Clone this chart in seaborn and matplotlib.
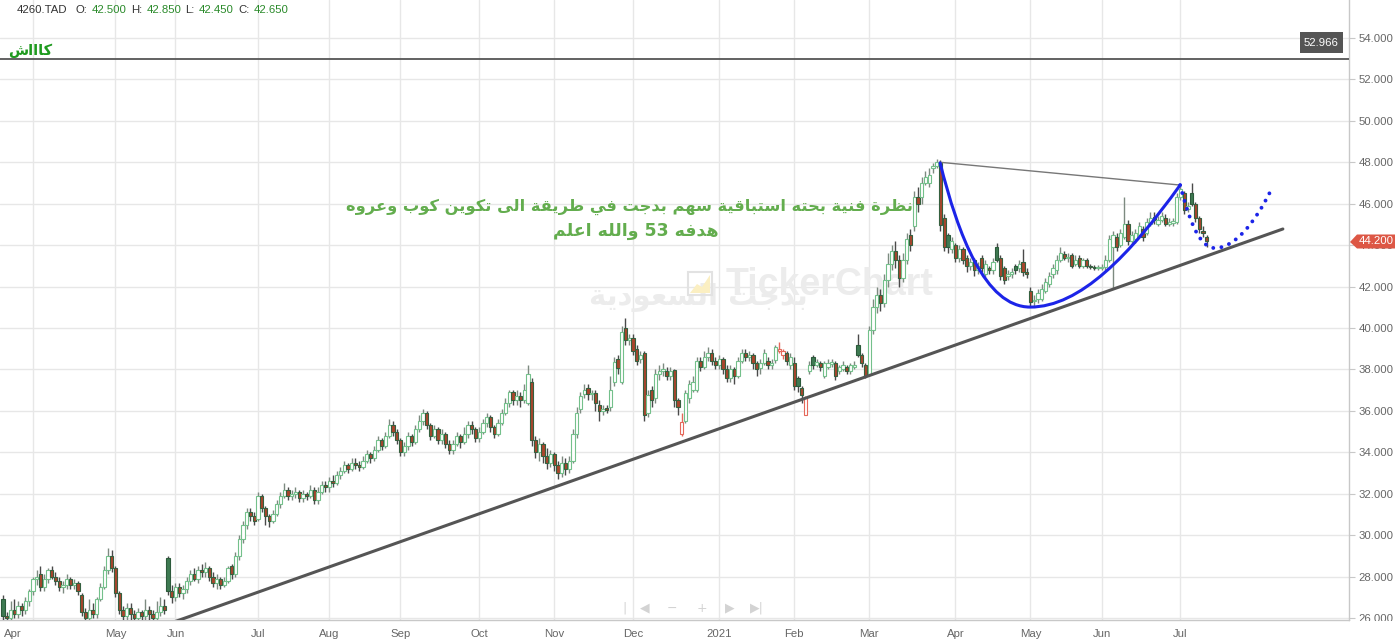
import re
import numpy as np
import matplotlib
matplotlib.use("Agg")
import matplotlib.pyplot as plt
from matplotlib.path import Path
from matplotlib.patches import PathPatch, Polygon, Rectangle
import seaborn as sns

# DATA (one candle per trading day, Mar 2020 .. Jul 2021)

month_labels = ["Apr", "May", "Jun", "Jul", "Aug", "Sep", "Oct", "Nov", "Dec",
                "2021", "Feb", "Mar", "Apr", "May", "Jun", "Jul"]
month_start = [8, 30, 46, 68, 87, 106, 127, 147, 168, 191, 211, 231, 254, 274, 293, 314]
month_label_pos = [2.7, 30, 46, 68, 87, 106, 127, 147, 168, 191, 211, 231, 254, 274, 293, 314]

opens = [
    26.9, 26.1, 26.0, 26.4, 26.2, 26.6, 26.4, 26.8,
    27.3, 27.9, 28.1, 27.5, 27.9, 28.3, 28.0, 27.8, 27.5, 27.6, 27.9, 27.6, 27.7, 27.1, 26.3, 26.0, 26.4, 26.2, 26.9, 27.5, 28.3, 29.0,
    28.4, 27.2, 26.4, 26.1, 26.5, 26.2, 26.0, 26.3, 26.1, 26.4, 26.2, 26.0, 26.3, 26.6, 28.9, 27.3,
    27.0, 27.5, 27.2, 27.4, 27.8, 28.1, 27.9, 28.3, 28.2, 28.4, 28.0, 27.7, 27.9, 27.6, 27.8, 28.5, 28.1, 29.0, 29.8, 30.5, 31.1, 30.9,
    30.8, 31.9, 31.3, 30.9, 30.7, 31.0, 31.5, 31.9, 32.2, 31.9, 32.0, 32.1, 31.8, 32.0, 31.9, 32.2, 31.7, 32.1, 32.4,
    32.3, 32.6, 32.5, 32.9, 33.1, 33.4, 33.2, 33.5, 33.4, 33.3, 33.6, 33.9, 33.7, 34.1, 34.6, 34.3, 34.8, 35.3, 35.0,
    34.6, 34.0, 34.3, 34.8, 34.5, 35.1, 35.5, 35.9, 35.3, 34.8, 35.1, 34.6, 34.9, 34.4, 34.1, 34.4, 34.8, 34.5, 34.9, 35.3, 35.1,
    34.7, 35.0, 35.4, 35.7, 35.2, 34.9, 35.4, 35.9, 36.4, 36.9, 36.5, 36.7, 36.5, 36.4, 37.4, 34.6, 34.0, 34.4, 33.8, 33.5,
    33.9, 33.4, 33.0, 33.5, 33.2, 33.6, 34.9, 36.1, 36.8, 37.1, 36.8, 36.85, 36.3, 36.0, 36.15, 36.2, 37.4, 38.5, 37.4, 40.0, 39.4,
    39.5, 39.0, 38.5, 38.8, 35.9, 37.0, 36.6, 37.8, 37.9, 37.9, 37.7, 37.95, 36.5, 34.9, 35.5, 36.6, 37.0, 37.0, 38.4, 38.1, 38.6, 38.8, 38.4,
    38.2, 38.5, 38.0, 37.6, 38.0, 37.7, 38.4, 38.8, 38.6, 38.7, 38.3, 38.05, 38.3, 38.4, 38.2, 38.45, 38.9, 38.7, 38.8, 38.2,
    38.3, 37.6, 37.1, 35.8, 37.9, 38.6, 38.2, 38.3, 37.7, 38.1, 38.25, 38.3, 37.9, 38.0, 38.1, 37.9, 38.1, 39.2, 38.7, 38.2,
    37.8, 39.9, 41.0, 41.6, 41.2, 42.3, 43.1, 43.7, 43.3, 42.4, 43.3, 44.5, 44.9, 46.3, 46.3, 47.0, 47.0, 47.7, 47.8, 47.95, 45.3, 44.5, 43.8,
    44.0, 43.4, 43.8, 43.4, 43.0, 43.3, 42.8, 43.4, 42.6, 42.9, 42.8, 43.9, 43.4, 42.9, 42.5, 42.6, 43.0, 42.9, 43.2, 42.7,
    41.8, 41.3, 41.4, 41.4, 41.8, 42.1, 42.6, 42.8, 43.3, 43.55, 43.4, 43.5, 43.1, 43.4, 43.0, 43.3, 43.0, 42.95, 42.9,
    42.9, 42.95, 43.3, 43.9, 44.4, 44.0, 44.4, 45.0, 44.2, 44.3, 44.5, 44.8, 44.6, 45.0, 45.35, 45.0, 45.2, 45.3, 45.0, 45.05, 45.1,
    46.3, 46.5, 45.75, 46.5, 46.0, 45.3, 44.7, 44.4,
]

closes = [
    26.1, 26.0, 26.4, 26.2, 26.6, 26.4, 26.8, 27.3,
    27.9, 28.0, 27.5, 27.9, 28.3, 28.0, 27.8, 27.5, 27.6, 27.9, 27.6, 27.7, 27.3, 26.3, 26.0, 26.4, 26.2, 26.9, 27.5, 28.3, 29.0, 28.4,
    27.2, 26.4, 26.1, 26.5, 26.2, 26.0, 26.3, 26.1, 26.4, 26.2, 26.0, 26.3, 26.6, 26.4, 27.3, 27.0,
    27.5, 27.2, 27.4, 27.8, 28.1, 27.9, 28.3, 28.2, 28.4, 28.0, 27.7, 27.9, 27.6, 27.8, 28.4, 28.1, 29.0, 29.8, 30.5, 31.1, 30.9, 30.7,
    31.9, 31.3, 30.9, 30.7, 31.0, 31.5, 31.9, 32.2, 31.9, 32.0, 32.1, 31.8, 32.0, 31.9, 32.2, 31.7, 32.1, 32.4, 32.3,
    32.6, 32.5, 32.9, 33.1, 33.4, 33.2, 33.5, 33.4, 33.3, 33.6, 33.9, 33.7, 34.1, 34.6, 34.3, 34.8, 35.3, 35.0, 34.6,
    34.0, 34.3, 34.8, 34.5, 35.1, 35.5, 35.9, 35.3, 34.8, 35.1, 34.6, 34.9, 34.4, 34.1, 34.4, 34.8, 34.5, 34.9, 35.3, 35.1, 34.7,
    35.0, 35.4, 35.7, 35.2, 34.9, 35.4, 35.9, 36.4, 36.9, 36.5, 36.7, 36.5, 37.0, 37.8, 34.6, 34.0, 34.4, 33.8, 33.5, 33.9,
    33.4, 33.0, 33.5, 33.2, 33.6, 34.9, 35.9, 36.7, 37.0, 36.8, 36.8, 36.4, 36.0, 36.1, 36.05, 37.0, 38.35, 38.06, 39.8, 39.4, 39.5,
    38.9, 38.4, 38.7, 35.8, 36.75, 36.5, 37.8, 37.9, 38.0, 37.7, 37.9, 36.5, 36.2, 35.45, 36.85, 37.3, 37.4, 38.4, 38.1, 38.6, 38.8, 38.4, 38.2,
    38.5, 38.0, 37.6, 38.0, 37.7, 38.4, 38.8, 38.6, 38.7, 38.3, 38.0, 38.3, 38.8, 38.2, 38.3, 39.1, 39.0, 38.9, 38.4, 38.6,
    37.2, 37.2, 36.75, 36.6, 38.2, 38.2, 38.35, 38.1, 38.3, 38.3, 38.35, 37.7, 38.1, 38.2, 37.9, 38.2, 38.2, 38.7, 38.3, 37.7,
    39.9, 41.0, 41.6, 41.2, 42.3, 43.1, 43.7, 43.3, 42.4, 43.3, 44.3, 44.0, 46.3, 46.0, 47.0, 47.3, 47.4, 47.8, 48.0, 44.97, 43.9, 43.9, 44.2,
    43.4, 43.8, 43.3, 43.0, 43.2, 42.8, 43.0, 42.9, 43.1, 42.8, 43.2, 43.3, 42.5, 42.3, 42.6, 42.7, 42.8, 43.1, 42.7, 42.6,
    41.25, 41.35, 41.7, 41.9, 42.2, 42.5, 42.9, 43.3, 43.6, 43.4, 43.45, 43.0, 43.3, 43.0, 43.3, 43.0, 42.95, 42.9, 42.95,
    42.95, 43.3, 44.3, 44.5, 43.9, 44.6, 45.0, 44.2, 44.5, 44.6, 44.9, 44.4, 45.1, 45.3, 45.2, 45.2, 45.4, 45.0, 45.1, 45.15, 46.3,
    46.7, 45.7, 45.9, 46.0, 45.3, 44.8, 44.6, 44.2,
]

highs = [
    27.1, 26.3, 26.8, 26.9, 26.8, 26.7, 27.0, 27.4,
    28.0, 28.3, 28.5, 28.1, 28.4, 28.5, 28.2, 28.0, 27.8, 28.1, 28.0, 27.9, 27.8, 27.2, 26.5, 26.9, 26.7, 27.0, 27.7, 28.5, 29.4, 29.3,
    28.5, 27.3, 26.6, 26.7, 26.7, 26.4, 26.5, 26.4, 26.9, 26.6, 26.4, 26.8, 27.0, 26.9, 29.0, 27.6,
    27.7, 27.7, 27.6, 28.0, 28.3, 28.4, 28.5, 28.6, 28.7, 28.5, 28.2, 28.1, 28.0, 28.0, 28.5, 28.6, 29.2, 30.0, 30.7, 31.3, 31.3, 31.1,
    32.1, 32.0, 31.4, 31.0, 31.2, 31.7, 32.1, 32.5, 32.3, 32.2, 32.3, 32.2, 32.2, 32.1, 32.4, 32.3, 32.3, 32.6, 32.6,
    32.8, 32.9, 33.1, 33.3, 33.6, 33.5, 33.7, 33.7, 33.6, 33.8, 34.1, 34.0, 34.3, 34.8, 34.7, 35.0, 35.6, 35.5, 35.1,
    34.7, 34.5, 35.0, 34.9, 35.3, 35.8, 36.1, 36.0, 35.4, 35.3, 35.2, 35.1, 35.0, 34.6, 34.6, 35.0, 34.9, 35.2, 35.5, 35.5, 35.2,
    35.2, 35.6, 35.9, 35.8, 35.3, 35.6, 36.1, 36.6, 37.0, 37.0, 37.0, 36.9, 37.3, 38.2, 37.6, 34.8, 34.7, 34.5, 34.2, 34.1,
    34.0, 33.6, 33.8, 33.7, 33.8, 35.1, 36.2, 36.9, 37.3, 37.3, 37.0, 37.0, 36.5, 36.3, 36.3, 37.7, 38.6, 38.7, 40.1, 40.5, 39.7,
    39.7, 39.2, 38.9, 38.9, 37.0, 37.2, 38.0, 38.2, 38.3, 38.1, 38.1, 38.0, 36.6, 35.9, 37.0, 37.5, 37.7, 38.6, 38.6, 38.9, 39.1, 39.0, 38.6,
    38.7, 38.6, 38.2, 38.2, 38.1, 38.6, 39.0, 39.0, 38.9, 38.8, 38.4, 38.5, 39.0, 38.6, 38.5, 39.2, 39.3, 39.0, 38.9, 38.8,
    38.6, 37.7, 37.2, 36.7, 38.4, 38.7, 38.5, 38.4, 38.4, 38.5, 38.5, 38.4, 38.2, 38.4, 38.2, 38.3, 38.4, 39.7, 38.8, 38.3,
    40.1, 41.4, 42.0, 41.9, 42.6, 43.6, 44.0, 44.2, 43.5, 43.6, 44.6, 44.8, 46.6, 46.8, 47.3, 47.6, 47.7, 47.95, 48.15, 48.1, 45.5, 44.6, 44.4,
    44.1, 44.0, 43.9, 43.5, 43.4, 43.4, 43.2, 43.5, 43.3, 43.0, 43.4, 44.1, 43.5, 43.0, 42.8, 42.9, 43.1, 43.3, 43.8, 42.9,
    42.0, 41.6, 41.9, 42.1, 42.4, 42.7, 43.1, 43.5, 43.9, 43.7, 43.6, 43.6, 43.5, 43.5, 43.4, 43.4, 43.1, 43.05, 43.05,
    43.1, 43.5, 44.5, 44.7, 44.6, 44.8, 46.3, 45.2, 44.7, 44.8, 45.1, 44.9, 45.3, 45.6, 45.6, 45.4, 45.6, 45.5, 45.3, 45.3, 46.5,
    46.95, 46.6, 46.1, 47.0, 46.1, 45.4, 44.9, 44.5,
]

lows = [
    25.9, 25.7, 25.8, 26.0, 26.0, 26.1, 26.2, 26.6,
    27.1, 27.6, 27.3, 27.3, 27.7, 27.9, 27.6, 27.3, 27.2, 27.4, 27.4, 27.4, 27.1, 26.1, 25.7, 25.8, 26.0, 26.0, 26.8, 27.4, 28.1, 28.2,
    27.0, 26.2, 25.7, 25.9, 25.9, 25.6, 25.8, 25.8, 25.9, 25.9, 25.7, 25.9, 26.1, 26.2, 27.1, 26.7,
    26.8, 27.0, 26.9, 27.2, 27.6, 27.8, 27.7, 28.0, 28.0, 27.8, 27.5, 27.4, 27.4, 27.5, 27.7, 27.9, 28.0, 28.8, 29.6, 30.3, 30.7, 30.5,
    30.7, 31.1, 30.5, 30.4, 30.6, 30.9, 31.3, 31.8, 31.7, 31.7, 31.8, 31.6, 31.6, 31.7, 31.8, 31.5, 31.5, 32.0, 32.1,
    32.1, 32.3, 32.4, 32.7, 33.0, 33.0, 33.1, 33.2, 33.1, 33.2, 33.5, 33.5, 33.6, 34.0, 34.1, 34.2, 34.7, 34.8, 34.4,
    33.8, 33.8, 34.1, 34.3, 34.4, 35.0, 35.3, 35.1, 34.6, 34.7, 34.4, 34.4, 34.2, 33.9, 33.9, 34.3, 34.2, 34.4, 34.7, 34.9, 34.5,
    34.5, 34.9, 35.2, 35.0, 34.7, 34.8, 35.3, 35.8, 36.2, 36.3, 36.3, 36.2, 36.4, 36.3, 34.3, 33.7, 33.6, 33.5, 33.2, 33.3,
    33.1, 32.7, 32.8, 32.9, 33.0, 33.5, 34.7, 35.9, 36.6, 36.5, 36.5, 36.0, 35.5, 35.8, 35.9, 36.0, 37.2, 37.8, 37.3, 39.2, 39.2,
    38.7, 38.2, 38.3, 35.5, 35.7, 36.2, 36.4, 37.5, 37.7, 37.5, 37.5, 36.2, 35.8, 34.8, 35.4, 36.4, 36.9, 36.9, 37.9, 38.0, 38.4, 38.2, 38.0,
    38.0, 37.8, 37.4, 37.4, 37.3, 37.6, 38.3, 38.4, 38.4, 38.0, 37.7, 37.8, 38.2, 38.0, 38.0, 38.3, 38.8, 38.5, 38.2, 38.0,
    37.0, 36.9, 36.4, 35.8, 37.8, 38.0, 38.1, 37.9, 37.6, 38.0, 38.1, 37.5, 37.8, 37.9, 37.8, 37.8, 38.0, 38.6, 38.1, 37.6,
    37.7, 39.7, 40.7, 40.8, 41.0, 42.0, 42.8, 42.9, 42.0, 42.2, 43.1, 43.7, 44.7, 45.6, 46.0, 46.9, 46.8, 47.5, 47.7, 44.7, 43.7, 43.6, 43.6,
    43.2, 43.2, 43.1, 42.7, 42.8, 42.5, 42.6, 42.7, 42.4, 42.6, 42.6, 43.2, 42.3, 42.1, 42.3, 42.4, 42.6, 42.7, 42.5, 42.4,
    41.0, 41.0, 41.2, 41.3, 41.7, 42.0, 42.4, 42.6, 43.2, 43.3, 43.2, 42.9, 43.0, 42.9, 42.9, 42.9, 42.85, 42.8, 42.8,
    42.8, 42.8, 43.2, 41.9, 43.7, 43.9, 44.3, 44.0, 44.0, 44.1, 44.4, 44.2, 44.5, 44.9, 45.0, 44.9, 45.1, 44.9, 44.9, 44.9, 45.0,
    46.2, 45.5, 45.6, 45.9, 45.1, 44.6, 44.4, 43.9,
]

# drawn lines (candle index, price)
trend_x = [40.0, 341.3]
trend_y = [25.45, 44.78]
rim_x = [249.9, 313.9]
rim_y = [48.0, 46.9]
cup_x = [249.9, 254.7, 261.9, 273.9, 287.2, 300.5, 313.9]
cup_y = [47.97, 44.49, 41.01, 41.01, 41.01, 43.52, 46.90]
handle_x = [313.9, 316.0, 318.7, 323.2, 328.5, 333.9, 337.9]
handle_y = [46.90, 45.45, 43.86, 43.86, 43.86, 45.12, 46.57]
target_level = 52.966
last_price = 44.2

ticker = "4260.TAD"
ohlc_names = ["O:", "H:", "L:", "C:"]
ohlc_values = ["42.500", "42.850", "42.450", "42.650"]

note_line1 = "نظرة فنية بحته استباقية سهم بدجت في طريقة الى تكوين كوب وعروه"
note_line2 = "هدفه 53 والله اعلم"
user_tag = "كاااش"
wm_ar = "بدجت السعودية"

# ARABIC SHAPING (matplotlib has no bidi / joining)

FORMS = {
    "ا": ("\uFE8D", "\uFE8E", None, None),
    "ب": ("\uFE8F", "\uFE90", "\uFE91", "\uFE92"),
    "ة": ("\uFE93", "\uFE94", None, None),
    "ت": ("\uFE95", "\uFE96", "\uFE97", "\uFE98"),
    "ج": ("\uFE9D", "\uFE9E", "\uFE9F", "\uFEA0"),
    "ح": ("\uFEA1", "\uFEA2", "\uFEA3", "\uFEA4"),
    "د": ("\uFEA9", "\uFEAA", None, None),
    "ر": ("\uFEAD", "\uFEAE", None, None),
    "س": ("\uFEB1", "\uFEB2", "\uFEB3", "\uFEB4"),
    "ش": ("\uFEB5", "\uFEB6", "\uFEB7", "\uFEB8"),
    "ط": ("\uFEC1", "\uFEC2", "\uFEC3", "\uFEC4"),
    "ظ": ("\uFEC5", "\uFEC6", "\uFEC7", "\uFEC8"),
    "ع": ("\uFEC9", "\uFECA", "\uFECB", "\uFECC"),
    "ف": ("\uFED1", "\uFED2", "\uFED3", "\uFED4"),
    "ق": ("\uFED5", "\uFED6", "\uFED7", "\uFED8"),
    "ك": ("\uFED9", "\uFEDA", "\uFEDB", "\uFEDC"),
    "ل": ("\uFEDD", "\uFEDE", "\uFEDF", "\uFEE0"),
    "م": ("\uFEE1", "\uFEE2", "\uFEE3", "\uFEE4"),
    "ن": ("\uFEE5", "\uFEE6", "\uFEE7", "\uFEE8"),
    "ه": ("\uFEE9", "\uFEEA", "\uFEEB", "\uFEEC"),
    "و": ("\uFEED", "\uFEEE", None, None),
    "ى": ("\uFEEF", "\uFEF0", None, None),
    "ي": ("\uFEF1", "\uFEF2", "\uFEF3", "\uFEF4"),
}


def shape_ar(text):
    out = []
    for k, ch in enumerate(text):
        if ch not in FORMS:
            out.append(ch)
            continue
        prv = text[k - 1] if k > 0 else ""
        nxt = text[k + 1] if k + 1 < len(text) else ""
        join_prev = prv in FORMS and FORMS[prv][2] is not None
        join_next = nxt in FORMS and FORMS[ch][2] is not None
        iso, fin, ini, med = FORMS[ch]
        if join_prev and join_next:
            out.append(med)
        elif join_prev:
            out.append(fin)
        elif join_next:
            out.append(ini)
        else:
            out.append(iso)
    s = "".join(out)[::-1]
    return re.sub(r"\d+", lambda m: m.group(0)[::-1], s)


# STYLE

sns.set_style("white")
plt.rcParams["font.family"] = ["Liberation Sans", "DejaVu Sans"]

W, H = 1395, 641
fig = plt.figure(figsize=(W / 100, H / 100), dpi=100)
fig.patch.set_facecolor("white")

AX_RIGHT = 1349
AX_BOTTOM = 620
ax = fig.add_axes([0, (H - AX_BOTTOM) / H, AX_RIGHT / W, AX_BOTTOM / H])
ov = fig.add_axes([0, 0, 1, 1], zorder=5)
ov.set_xlim(0, W)
ov.set_ylim(H, 0)
ov.axis("off")
ov.patch.set_alpha(0)

# price scale: 54 at y=38 px, 20.714 px per unit
ax.set_ylim(54 - (AX_BOTTOM - 38) / 20.714, 54 + 38 / 20.714)
ax.set_xlim(-0.8, (AX_RIGHT - 3) / 3.75)

# GRID

ax.set_yticks(np.arange(26, 55, 2))
ax.set_yticklabels([f"{v:.3f}" for v in np.arange(26, 55, 2)])
ax.yaxis.tick_right()
ax.tick_params(axis="y", length=4, color="#c8c8c8", labelcolor="#666666",
               labelsize=8.2, pad=3)
ax.set_xticks(month_start)
ax.tick_params(axis="x", length=4, color="#c8c8c8", labelbottom=False)
ax.grid(True, color="#e7e7e7", lw=1)
ax.set_axisbelow(True)
for side in ["top", "left"]:
    ax.spines[side].set_visible(False)
for side in ["right", "bottom"]:
    ax.spines[side].set_color("#c8c8c8")
    ax.spines[side].set_linewidth(1)

for pos, lab in zip(month_label_pos, month_labels):
    ax.text(pos, -0.022, lab, transform=ax.get_xaxis_transform(),
            ha="center", va="center", fontsize=8.2, color="#666666")

# WATERMARK

ax.text(830, 285, "TickerChart", transform=ov.transData, ha="center",
        va="center", fontsize=27, fontweight="bold", color="#ececec", zorder=0.6)
ax.text(698, 298, shape_ar(wm_ar), transform=ov.transData, ha="center",
        va="center", fontsize=21, fontweight="bold", color="#ececec",
        family="DejaVu Sans", zorder=0.6)
ax.add_patch(Rectangle((688, 272), 24, 23, transform=ov.transData, fill=False,
                       ec="#e2e2e2", lw=1.5, zorder=0.6))
ax.add_patch(Polygon([(690, 293), (697, 284), (702, 287), (710, 275), (710, 293)],
                     closed=True, transform=ov.transData, fc="#fbefc2",
                     ec="none", zorder=0.6))

# CANDLES

n = min(len(opens), len(highs), len(lows), len(closes))
idx = np.arange(n)
o = np.array(opens[:n])
c = np.array(closes[:n])
h = np.array(highs[:n])
l = np.array(lows[:n])
prev = np.r_[c[0], c[:-1]]
hollow = c >= o
up_day = c >= prev

faces, edges, wicks = [], [], []
for hol, up in zip(hollow, up_day):
    if hol and up:
        faces.append("white"); edges.append("#74c08b"); wicks.append("#7d8a80")
    elif hol:
        faces.append("white"); edges.append("#e5685a"); wicks.append("#e5685a")
    elif up:
        faces.append("#3e7a52"); edges.append("#2c5a3b"); wicks.append("#4a4a4a")
    else:
        faces.append("#a9452c"); edges.append("#35603f"); wicks.append("#4a4a4a")

ax.vlines(idx, l, h, colors=wicks, lw=1, zorder=3)
ax.bar(idx, np.maximum(np.abs(c - o), 0.05), bottom=np.minimum(o, c), width=0.85,
       color=faces, edgecolor=edges, linewidth=0.8, zorder=4)

# PATTERN LINES

sns.lineplot(x=trend_x, y=trend_y, ax=ax, color="#555555", lw=2.2, zorder=5)
sns.lineplot(x=rim_x, y=rim_y, ax=ax, color="#777777", lw=1, zorder=5)

cup_codes = [Path.MOVETO] + [Path.CURVE4] * 6
ax.add_patch(PathPatch(Path(list(zip(cup_x, cup_y)), cup_codes), fill=False,
                       ec="#1c24e8", lw=2.2, zorder=6, capstyle="round"))
ax.add_patch(PathPatch(Path(list(zip(handle_x, handle_y)), cup_codes), fill=False,
                       ec="#1c24e8", lw=2.8, zorder=6, capstyle="round",
                       linestyle=(0, (0.01, 2.1))))

ax.axhline(target_level, color="#555555", lw=1.3, zorder=5)

# LABELS ON THE PRICE SCALE

ov.add_patch(Rectangle((1300, 32), 43, 21, fc="#555555", ec="none"))
ov.text(1321.5, 42.5, f"{target_level:.3f}", ha="center", va="center",
        fontsize=8.2, color="white")
y_last = 38 + (54 - last_price) * 20.714
ov.add_patch(Polygon([(1350, y_last + 1), (1357, y_last - 6.5), (1395, y_last - 6.5),
                      (1395, y_last + 7.5), (1357, y_last + 7.5)], closed=True,
                     fc="#dd5745", ec="none"))
ov.text(1376, y_last + 0.5, f"{last_price:.3f}", ha="center", va="center",
        fontsize=8.2, color="white")
ov.add_patch(Rectangle((1350, AX_BOTTOM + 0.8), 45, 20, fc="white", ec="none"))

# HEADER

ov.text(17, 10, ticker, ha="left", va="center", fontsize=8.2, color="#333333")
for x_name, x_val, name, val in zip([76, 131, 185, 238], [92, 147, 199, 254],
                                    ohlc_names, ohlc_values):
    ov.text(x_name, 10, name, ha="left", va="center", fontsize=8.2, color="#333333")
    ov.text(x_val, 10, val, ha="left", va="center", fontsize=8.2, color="#2a8a2a")

ov.text(30, 50, shape_ar(user_tag), ha="center", va="center", fontsize=10.5,
        fontweight="bold", color="#1f9a1f", family="DejaVu Sans")

ov.text(630, 207, shape_ar(note_line1), ha="center", va="center", fontsize=11.7,
        fontweight="bold", color="#63ad4e", family="DejaVu Sans")
ov.text(636, 231, shape_ar(note_line2), ha="center", va="center", fontsize=12.5,
        fontweight="bold", color="#63ad4e", family="DejaVu Sans")

# NAVIGATION BAR

for xg, g in zip([625, 645, 672, 702, 730, 757], ["|", "◀", "−", "+", "▶", "▶|"]):
    ov.text(xg, 608, g, ha="center", va="center", fontsize=9, color="#d3d3d3",
            family="DejaVu Sans")

fig.savefig("out.png", dpi=100)
